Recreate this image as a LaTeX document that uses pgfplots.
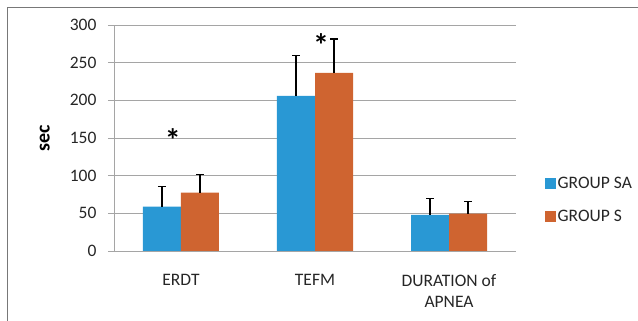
\documentclass[border=0pt]{standalone}
\usepackage{pgfplots}
\pgfplotsset{compat=1.18}
\usepackage{fontspec}
\setmainfont{Carlito}
\definecolor{bblue}{RGB}{41,152,212}
\definecolor{borange}{RGB}{207,100,48}
\definecolor{gridc}{RGB}{165,165,165}
\definecolor{framec}{RGB}{120,120,120}
\begin{document}
\begin{tikzpicture}[x=1pt,y=1pt]
\useasboundingbox (0,0) rectangle (638,321);
\draw[framec, line width=1pt] (7,-5) -- (7,313) -- (645,313);
\begin{axis}[
  at={(114pt,70pt)}, anchor=south west,
  scale only axis, width=402pt, height=226pt,
  ybar=0pt, bar width=38pt,
  xmin=-0.5, xmax=2.5, ymin=0, ymax=300,
  ytick={0,50,...,300},
  xtick={0,1,2},
  xticklabels={ERDT, TEFM, {DURATION of\\APNEA}},
  major x tick style={draw=none},
  extra x ticks={-0.5,0.5,1.5,2.5},
  extra x tick labels={},
  extra x tick style={grid=none, major tick length=6pt, tick style={gridc, line width=0.8pt}},
  tick align=outside,
  major tick length=6pt,
  axis x line*=bottom, axis y line*=left,
  axis line style={gridc, line width=0.8pt, -},
  y tick style={gridc, line width=0.8pt},
  ymajorgrids, grid style={gridc, line width=0.8pt},
  /pgf/number format/assume math mode=true,
  yticklabel style={font=\fontsize{17.5}{18}\selectfont, text=black!85, xshift=-8pt},
  xticklabel style={font=\fontsize{17.5}{21}\selectfont, text=black!85, align=center, yshift=-14pt},
  ylabel={sec},
  ylabel style={font=\fontsize{20}{20}\selectfont\bfseries, at={(rel axis cs:-0.172,0.5)}, anchor=center},
  error bars/y dir=plus, error bars/y explicit,
  error bars/error mark=|,
  error bars/error bar style={draw=black, line width=1.3pt},
  error bars/error mark options={draw=black, line width=1.3pt, mark size=4pt},
  legend style={at={(1.072,0.225)}, anchor=west, draw=none, fill=none,
    font=\fontsize{17.5}{18}\selectfont, row sep=16pt, inner sep=0pt,
    nodes={inner sep=2pt, text=black!85}},
  legend cell align=left,
  legend image code/.code={\fill[#1] (0pt,-5pt) rectangle (10.5pt,5.5pt);},
  clip=false,
]
\addplot[fill=bblue, draw=none] coordinates {(0,59) +- (0,26.5) (1,206) +- (0,53.5) (2,48) +- (0,22)};
\addplot[fill=borange, draw=none] coordinates {(0,77.5) +- (0,24.5) (1,236.5) +- (0,45) (2,49.5) +- (0,16)};
\legend{GROUP SA, GROUP S}
\node[font=\fontsize{32}{32}\selectfont\bfseries] at (axis cs:-0.06,147) {*};
\node[font=\fontsize{32}{32}\selectfont\bfseries] at (axis cs:1.045,273) {*};
\end{axis}
\end{tikzpicture}
\end{document}
